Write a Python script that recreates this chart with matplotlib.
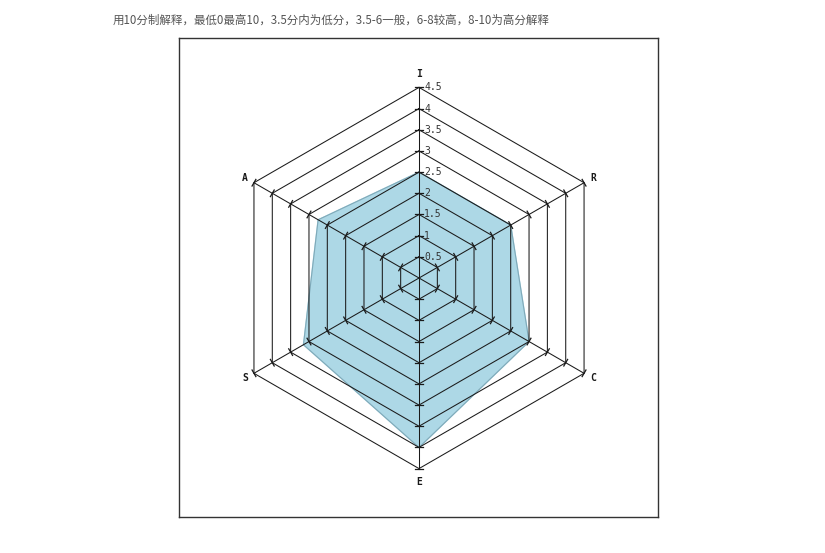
import matplotlib.pyplot as plt
import numpy as np

plt.rcParams['font.family'] = ['Noto Sans CJK SC', 'DejaVu Sans']

# dimensions, clockwise from top
labels = ["I", "R", "C", "E", "S", "A"]
scores = [2.5, 2.5, 3.0, 4.0, 3.15, 2.75]
rings = [0.5, 1, 1.5, 2, 2.5, 3, 3.5, 4, 4.5]
ring_labels = ["0.5", "1", "1.5", "2", "2.5", "3", "3.5", "4", "4.5"]
title = "用10分制解释，最低0最高10，3.5分内为低分，3.5-6一般，6-8较高，8-10为高分解释"

angles = np.deg2rad(90 - 60 * np.arange(len(labels)))
ux, uy = np.cos(angles), np.sin(angles)

fig = plt.figure(figsize=(8.25, 5.53), dpi=100)
ax = fig.add_axes([179 / 825, 36 / 553, 479 / 825, 479 / 553])
ax.set_xlim(-5.667, 5.643)
ax.set_ylim(-5.643, 5.667)
ax.set_aspect("equal")
ax.set_xticks([])
ax.set_yticks([])
for s in ax.spines.values():
    s.set_color("#333333")
    s.set_linewidth(1)

# data polygon
r = np.array(scores)
ax.fill(r * ux, r * uy, color="#add8e6", zorder=1)
ax.plot(np.append(r * ux, r[0] * ux[0]), np.append(r * uy, r[0] * uy[0]),
        color="#7fa9b8", lw=0.8, zorder=1.5)

# hexagon grid
for ring in rings:
    ax.plot(np.append(ring * ux, ring * ux[0]), np.append(ring * uy, ring * uy[0]),
            color="#1a1a1a", lw=0.75, zorder=2)

# spokes, ticks and labels
tk = 0.09
for i in range(len(labels)):
    ax.plot([0, rings[-1] * ux[i]], [0, rings[-1] * uy[i]], color="#1a1a1a", lw=0.75, zorder=2)
    px, py = -uy[i], ux[i]
    for ring in rings:
        cx, cy = ring * ux[i], ring * uy[i]
        ax.plot([cx - tk * px, cx + tk * px], [cy - tk * py, cy + tk * py],
                color="#1a1a1a", lw=0.9, zorder=3)
    lr = 4.82 if labels[i] in "IE" else 4.74
    ax.text(lr * ux[i], lr * uy[i], labels[i], ha="center", va="center",
            fontsize=7, fontweight="bold", family="DejaVu Sans Mono", color="#1a1a1a")

for ring, lab in zip(rings, ring_labels):
    ax.text(0.12, ring, lab, ha="left", va="center", fontsize=7,
            family="DejaVu Sans Mono", color="#333333", zorder=4)

fig.text(113 / 825, 1 - 20 / 553, title, ha="left", va="center", fontsize=8.3, color="#555555")

fig.savefig("out.png", dpi=100)
